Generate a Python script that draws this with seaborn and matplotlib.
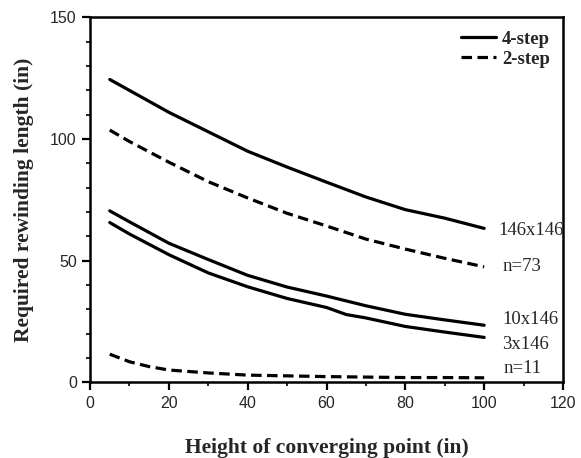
import numpy as np
import pandas as pd
import seaborn as sns
import matplotlib.pyplot as plt
from matplotlib.lines import Line2D
from matplotlib.ticker import MultipleLocator

# heights of converging point (in)
x_std = [5, 10, 20, 30, 40, 50, 60, 70, 80, 90, 100]
x_3 = [5, 10, 20, 30, 40, 50, 60, 65, 70, 80, 90, 100]
x_n11 = [5, 10, 15, 20, 30, 40, 50, 60, 70, 80, 90, 100]

# required rewinding length (in)
y_146 = [124.5, 120, 111, 103, 95, 88.5, 82.3, 76.2, 71, 67.5, 63.3]
y_n73 = [103.7, 99, 90.5, 82.5, 75.8, 69.5, 64.3, 58.9, 54.8, 51, 47.5]
y_10 = [70.5, 66, 57.2, 50.5, 44, 39.2, 35.5, 31.5, 28, 25.7, 23.5]
y_3 = [65.7, 61, 52.5, 45, 39.3, 34.5, 30.8, 27.9, 26.5, 23, 20.7, 18.5]
y_n11 = [11.6, 8.5, 6.5, 5.1, 3.9, 3.0, 2.7, 2.4, 2.2, 2.0, 2.0, 1.9]

curve_labels = ['146x146', 'n=73', '10x146', '3x146', 'n=11']
label_x = [103.5, 104.7, 104.7, 104.5, 104.9]
label_y = [62.6, 47.8, 26, 15.6, 5.7]

sns.set_style("ticks")
serif = ['Liberation Serif', 'DejaVu Serif']
plt.rcParams['font.family'] = ['Liberation Sans', 'DejaVu Sans']

fig = plt.figure(figsize=(5.81, 4.58), dpi=100)
ax = fig.add_axes([0.155, 0.165, 0.814, 0.797])

dash = (3.3, 1.7)
lw = 2.3
series = [
    (x_std, y_146, '-'),
    (x_std, y_n73, '--'),
    (x_std, y_10, '-'),
    (x_3, y_3, '-'),
    (x_n11, y_n11, '--'),
]
for xs, ys, ls in series:
    df = pd.DataFrame({'x': xs, 'y': ys})
    line = sns.lineplot(data=df, x='x', y='y', ax=ax, color='black',
                        linewidth=lw, legend=False)
    if ls == '--':
        line.lines[-1].set_dashes(dash)

for lab, lx, ly in zip(curve_labels, label_x, label_y):
    ax.text(lx, ly, lab, fontsize=13.5, family=serif, va='center', ha='left')

ax.set_xlim(0, 120)
ax.set_ylim(0, 150)
ax.xaxis.set_major_locator(MultipleLocator(20))
ax.xaxis.set_minor_locator(MultipleLocator(10))
ax.yaxis.set_major_locator(MultipleLocator(50))
ax.yaxis.set_minor_locator(MultipleLocator(10))
ax.tick_params(which='major', length=6, width=1.6, labelsize=11.5, color='black')
ax.tick_params(which='minor', length=3, width=1.2, color='black')
for s in ax.spines.values():
    s.set_linewidth(1.8)
    s.set_color('black')

ax.set_xlabel('Height of converging point (in)', fontsize=15.5, fontweight='bold',
              family=serif, labelpad=20)
ax.set_ylabel('Required rewinding length (in)', fontsize=15.5, fontweight='bold',
              family=serif, labelpad=12)

handles = [Line2D([], [], color='black', lw=lw, ls='-'),
           Line2D([], [], color='black', lw=lw, dashes=dash)]
ax.legend(handles, ['4-step', '2-step'], loc='upper right', frameon=False,
          prop={'family': serif, 'size': 13.5, 'weight': 'bold'},
          handlelength=1.9, handletextpad=0.3, borderaxespad=0.3,
          labelspacing=0.15)

fig.savefig('out.png', dpi=100)
